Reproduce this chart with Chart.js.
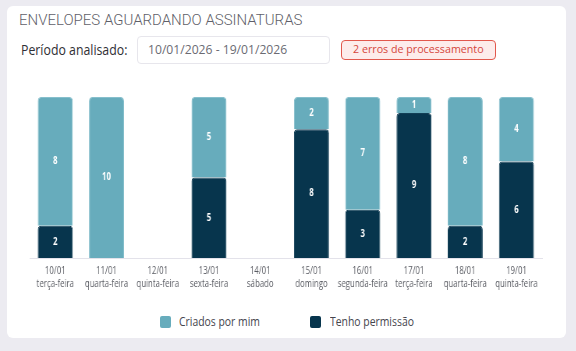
<!DOCTYPE html>
<html lang="pt-BR">
<head>
<meta charset="utf-8">
<title>Envelopes aguardando assinaturas</title>
<script src="https://cdn.jsdelivr.net/npm/chart.js@4.4.1/dist/chart.umd.min.js"></script>
<style>
  html, body { margin: 0; padding: 0; }
  body { width: 576px; height: 351px; background: #ecebf1; font-family: "Open Sans", sans-serif; position: relative; overflow: hidden; }
  .card { position: absolute; left: 7px; top: 6px; width: 559px; height: 332px; background: #fff; border-radius: 6px; }
  .sq { position: absolute; display: inline-block; white-space: nowrap; transform-origin: 0 50%; line-height: 1; }
  #title { left: 12px; top: 7px; font-family: Roboto, sans-serif; font-weight: 300; font-size: 15px; color: #5f5f69; }
  #periodLabel { left: 14px; top: 37px; font-size: 14px; color: #2f2f35; transform: scaleX(0.88); }
  .input { position: absolute; left: 130px; top: 30px; width: 191px; height: 26px; border: 1px solid #e7e6ec; border-radius: 4px; }
  #periodValue { left: 141px; top: 37px; font-size: 13.5px; color: #6b6b73; transform: scaleX(0.9); }
  .badge { position: absolute; left: 334px; top: 34px; width: 153px; height: 18px; border: 1px solid #e2584d; border-radius: 4px; background: #fdeceb; }
  #badgeText { left: 346px; top: 37px; font-size: 11.5px; color: #d5463b; transform: scaleX(0.93); }
  .chart-box { position: absolute; left: 0; top: 74px; width: 717px; height: 220px; transform: scaleX(0.78); transform-origin: 0 0; }
  .swatch { position: absolute; top: 310px; width: 11px; height: 12px; border-radius: 2px; }
  .legend-text { top: 309px; font-size: 13px; color: #45454d; transform: scaleX(0.8); }
</style>
</head>
<body>
<div class="card">
  <span class="sq" id="title">ENVELOPES AGUARDANDO ASSINATURAS</span>
  <span class="sq" id="periodLabel">Período analisado:</span>
  <div class="input"></div>
  <span class="sq" id="periodValue">10/01/2026 - 19/01/2026</span>
  <div class="badge"></div>
  <span class="sq" id="badgeText">2 erros de processamento</span>
  <div class="chart-box"><canvas id="envelopesChart"></canvas></div>
  <div class="swatch" id="sw1" style="left:153px"></div>
  <span class="sq legend-text" id="lg1" style="left:172px"></span>
  <div class="swatch" id="sw2" style="left:303px"></div>
  <span class="sq legend-text" id="lg2" style="left:323px"></span>
</div>
<script>
const dias = ["10/01", "11/01", "12/01", "13/01", "14/01", "15/01", "16/01", "17/01", "18/01", "19/01"];
const semana = ["terça-feira", "quarta-feira", "quinta-feira", "sexta-feira", "sábado", "domingo", "segunda-feira", "terça-feira", "quarta-feira", "quinta-feira"];
const criadosPorMim = [8, 10, 0, 5, 0, 2, 7, 1, 8, 4];
const tenhoPermissao = [2, 0, 0, 5, 0, 8, 3, 9, 2, 6];
const yMax = 10;

const corClara = "#67acbc";
const corEscura = "#07354d";

// legenda em HTML
document.getElementById("sw1").style.background = corClara;
document.getElementById("sw2").style.background = corEscura;
document.getElementById("lg1").textContent = "Criados por mim";
document.getElementById("lg2").textContent = "Tenho permissão";

// números brancos no meio de cada segmento
const valueLabels = {
  id: "valueLabels",
  afterDatasetsDraw(chart) {
    const ctx = chart.ctx;
    ctx.save();
    ctx.font = 'bold 10px "Open Sans"';
    ctx.fillStyle = "#ffffff";
    ctx.textAlign = "center";
    ctx.textBaseline = "middle";
    chart.data.datasets.forEach((ds, i) => {
      const meta = chart.getDatasetMeta(i);
      meta.data.forEach((bar, j) => {
        const v = ds.counts[j];
        if (!v) return;
        ctx.fillText(String(v), bar.x, (bar.y + bar.base) / 2);
      });
    });
    ctx.restore();
  }
};

new Chart(document.getElementById("envelopesChart"), {
  type: "bar",
  data: {
    labels: dias.map((d, i) => [d, semana[i]]),
    datasets: [
      {
        label: "Tenho permissão",
        data: tenhoPermissao.map(v => v || null),
        counts: tenhoPermissao,
        backgroundColor: corEscura,
        borderColor: "#123f56",
        borderWidth: 1,
        borderRadius: 4,
        borderSkipped: "start",
        order: 1
      },
      {
        label: "Criados por mim",
        data: criadosPorMim.map((v, i) => v ? [tenhoPermissao[i], tenhoPermissao[i] + v] : null),
        counts: criadosPorMim,
        backgroundColor: corClara,
        borderColor: "#86bfcc",
        borderWidth: 1,
        borderRadius: 4,
        borderSkipped: "start",
        order: 2
      }
    ]
  },
  options: {
    responsive: true,
    maintainAspectRatio: false,
    animation: false,
    layout: { padding: { left: 29, right: 31, top: 17, bottom: 3 } },
    datasets: {
      bar: { grouped: false, barPercentage: 0.683, categoryPercentage: 1 }
    },
    plugins: {
      legend: { display: false },
      tooltip: { enabled: false }
    },
    scales: {
      x: {
        grid: { display: false, drawTicks: false },
        border: { display: true, color: "#e3e2ea", width: 1 },
        ticks: {
          color: "#5a5c63",
          padding: 6,
          font: { family: "Open Sans", size: 10, lineHeight: 1.35 },
          maxRotation: 0,
          autoSkip: false
        }
      },
      y: {
        display: false,
        min: 0,
        max: yMax
      }
    }
  },
  plugins: [valueLabels]
});
</script>
</body>
</html>
